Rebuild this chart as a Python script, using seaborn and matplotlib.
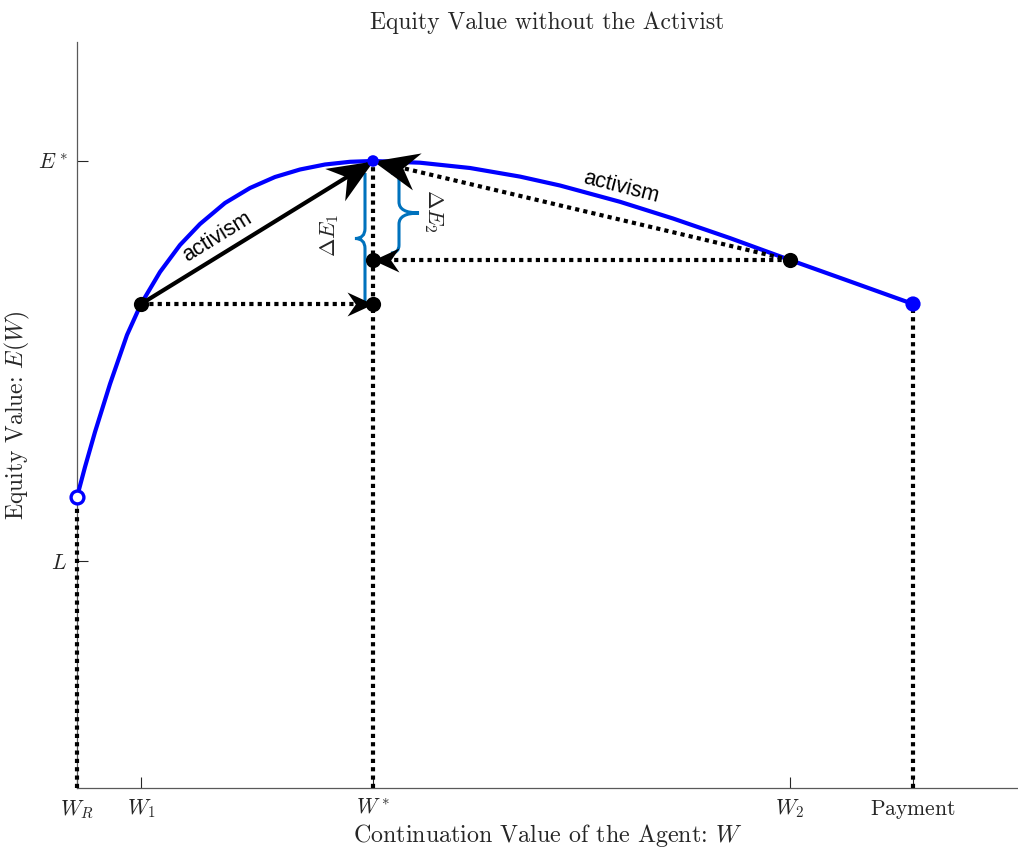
import numpy as np
import matplotlib
matplotlib.use("Agg")
import matplotlib.pyplot as plt
from matplotlib.markers import MarkerStyle
from matplotlib.path import Path
from matplotlib.patches import PathPatch
from matplotlib.transforms import Affine2D
import pandas as pd
import seaborn as sns

# Key points on the continuation-value axis
W_R = 0.0
W_1 = 0.64
W_STAR = 2.96
W_2 = 7.13
W_PAY = 8.36

# Equity values at those points
E_STAR = 6.27
L_VAL = 2.27
E_WR = 2.91
E_W1 = 4.84
E_W2 = 5.28
E_PAY = 4.84

# Equity value curve E(W)
curve_w = [0.00, 0.08, 0.18, 0.33, 0.50, 0.64, 0.83, 1.03, 1.23, 1.48, 1.73, 1.98,
           2.23, 2.48, 2.73, 2.96, 3.43, 3.93, 4.43, 4.83, 5.43, 5.96, 6.53, 7.13,
           7.73, 8.36]
curve_e = [2.91, 3.21, 3.56, 4.04, 4.53, 4.84, 5.16, 5.43, 5.64, 5.85, 6.00, 6.11,
           6.185, 6.235, 6.262, 6.27, 6.253, 6.20, 6.114, 6.025, 5.862, 5.695, 5.499,
           5.28, 5.066, 4.84]

x_ticks = [W_R, W_1, W_STAR, W_2, W_PAY]
x_tick_labels = [r"$W_R$", r"$W_1$", r"$W^*$", r"$W_2$", r"$\mathrm{Payment}$"]
y_ticks = [L_VAL, E_STAR]
y_tick_labels = [r"$L$", r"$E^*$"]

MATLAB_BLUE = "#0072BD"
TEXT_COLOR = "#262626"
DPI = 100

sns.set_theme(style="white")
plt.rcParams["mathtext.fontset"] = "cm"
plt.rcParams["font.family"] = ["cmr10", "DejaVu Serif"]
plt.rcParams["axes.formatter.use_mathtext"] = True

fig = plt.figure(figsize=(10.18, 8.5), dpi=DPI)
ax = fig.add_axes([77 / 1018, 62 / 850, 941 / 1018, 746 / 850])
ax.set_xlim(0, 9.41)
ax.set_ylim(0, 7.46)

dotted = dict(color="black", lw=3, ls=(0, (1, 1)), zorder=4, clip_on=False)


def arrow_head(start, tip, length_px, width_px):
    """Filled stealth-style arrowhead at `tip`, pointing away from `start`."""
    p0 = ax.transData.transform(start)
    p1 = ax.transData.transform(tip)
    ang = np.degrees(np.arctan2(p1[1] - p0[1], p1[0] - p0[0]))
    half = 0.5 * width_px / length_px
    verts = [(0, 0), (-1, half), (-0.68, 0), (-1, -half), (0, 0)]
    codes = [Path.MOVETO, Path.LINETO, Path.LINETO, Path.LINETO, Path.CLOSEPOLY]
    mk = MarkerStyle(Path(verts, codes), transform=Affine2D().rotate_deg(ang))
    ax.plot([tip[0]], [tip[1]], marker=mk, markersize=2 * length_px * 72 / DPI,
            color="black", markeredgewidth=0, linestyle="none", zorder=8)


def brace(x, y_lo, y_hi, depth, end_hook, mid_r, **kw):
    """Vertical curly brace at x spanning [y_lo, y_hi], tip offset by depth."""
    ym = 0.5 * (y_lo + y_hi)
    s = np.sign(depth)
    verts = [(x - s * end_hook, y_hi), (x, y_hi), (x, y_hi - end_hook),
             (x, ym + mid_r), (x, ym), (x + depth, ym),
             (x, ym), (x, ym - mid_r),
             (x, y_lo + end_hook), (x, y_lo), (x - s * end_hook, y_lo)]
    codes = [Path.MOVETO, Path.CURVE3, Path.CURVE3,
             Path.LINETO, Path.CURVE3, Path.CURVE3,
             Path.CURVE3, Path.CURVE3,
             Path.LINETO, Path.CURVE3, Path.CURVE3]
    ax.add_patch(PathPatch(Path(verts, codes), fill=False, **kw))


# Guide lines down to the axis
ax.plot([W_R, W_R], [0, E_WR], **dotted)
ax.plot([W_STAR, W_STAR], [0, E_STAR], **dotted)
ax.plot([W_PAY, W_PAY], [0, E_PAY], **dotted)

# Horizontal moves to W*
ax.plot([W_1, W_STAR], [E_W1, E_W1], **dotted)
ax.plot([W_2, W_STAR], [E_W2, E_W2], **dotted)

# Activism moves to the peak
ax.plot([W_2, W_STAR], [E_W2, E_STAR], **dotted)
ax.plot([W_1, W_STAR], [E_W1, E_STAR], color="black", lw=3, zorder=5,
        solid_capstyle="butt")

# Equity value curve
curve = pd.DataFrame({"W": curve_w, "E": curve_e})
sns.lineplot(data=curve, x="W", y="E", color="blue", lw=3, ax=ax, zorder=3,
             sort=False, estimator=None, clip_on=False)

# Arrowheads
arrow_head((W_1, E_W1), (W_STAR, E_W1), 26, 24)
arrow_head((W_2, E_W2), (W_STAR, E_W2), 26, 24)
arrow_head((W_1, E_W1), (W_STAR, E_STAR), 45, 38)
arrow_head((W_2, E_W2), (W_STAR, E_STAR), 45, 38)

# Points on the curve
ax.scatter([W_R], [E_WR], s=85, facecolors="white", edgecolors="blue",
           linewidths=2.4, zorder=9, clip_on=False)
sns.scatterplot(x=[W_STAR, W_PAY], y=[E_STAR, E_PAY], color="blue",
                size=[70, 120], sizes=(70, 120), legend=False, linewidth=0,
                ax=ax, zorder=9)
sns.scatterplot(x=[W_1, W_STAR, W_STAR, W_2], y=[E_W1, E_W1, E_W2, E_W2],
                color="black", s=120, linewidth=0, ax=ax, zorder=9)

# Gains from activism
brace(W_STAR - 0.08, E_W1, E_STAR - 0.12, -0.10, 0.0, 0.10,
      edgecolor=MATLAB_BLUE, lw=2.2, zorder=6)
brace(W_STAR + 0.26, E_W2 + 0.07, E_STAR - 0.12, 0.20, 0.08, 0.11,
      edgecolor=MATLAB_BLUE, lw=2.2, zorder=6)
ax.text(W_STAR - 0.43, 0.5 * (E_W1 + E_STAR - 0.12) + 0.03, r"$\Delta E_1$",
        rotation=90, ha="center", va="center", fontsize=16, zorder=10)
ax.text(W_STAR + 0.60, 0.5 * (E_W2 + E_STAR), r"$\Delta E_2$",
        rotation=-90, ha="center", va="center", fontsize=16, zorder=10)


def line_angle(a, b):
    p0 = ax.transData.transform(a)
    p1 = ax.transData.transform(b)
    return np.degrees(np.arctan2(p1[1] - p0[1], p1[0] - p0[0]))


# "activism" labels along the moves
ax.text(1.40, 5.51, "activism", rotation=line_angle((W_1, E_W1), (W_STAR, E_STAR)),
        rotation_mode="anchor", ha="center", va="center", fontsize=15.5,
        family="Liberation Sans", color="black", zorder=10)
ax.text(5.44, 6.01, "activism", rotation=line_angle((W_STAR, E_STAR), (W_2, E_W2)) - 1,
        rotation_mode="anchor", ha="center", va="center", fontsize=15.5,
        family="Liberation Sans", color="black", zorder=10)

# Axes styling
ax.set_xticks(x_ticks, x_tick_labels)
ax.set_yticks(y_ticks, y_tick_labels)
ax.tick_params(bottom=True, left=True, direction="in", length=8, width=0.8,
               color=TEXT_COLOR, labelsize=15.5, labelcolor=TEXT_COLOR, pad=7)
for side in ("top", "right"):
    ax.spines[side].set_visible(False)
for side in ("left", "bottom"):
    ax.spines[side].set_color("0.35")
    ax.spines[side].set_linewidth(0.9)
ax.grid(False)

ax.set_title("Equity Value without the Activist", fontsize=17, color=TEXT_COLOR, pad=9)
ax.set_xlabel(r"Continuation Value of the Agent: $W$", fontsize=17.3,
              color=TEXT_COLOR, labelpad=1)
ax.set_ylabel(r"Equity Value: $E(W)$", fontsize=17, color=TEXT_COLOR)
ax.yaxis.set_label_coords(-0.048, 0.5)

fig.savefig("out.png", dpi=DPI)
